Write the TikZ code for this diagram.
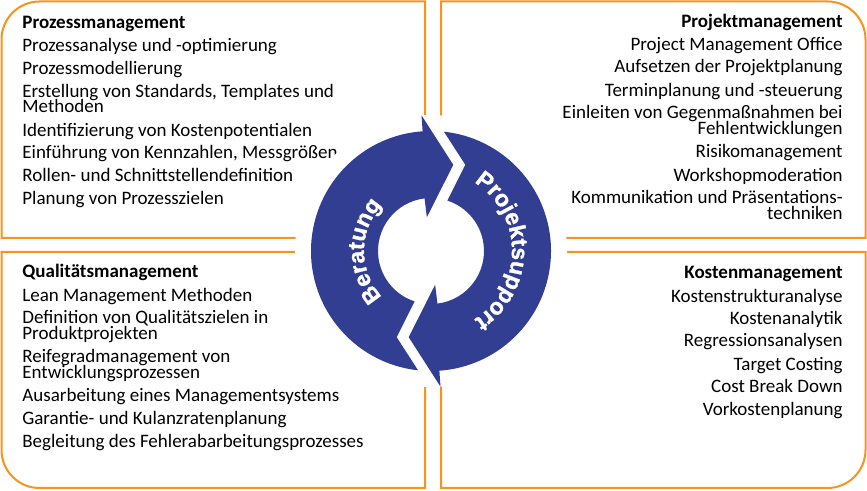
\documentclass[tikz,border=0pt]{standalone}
\usepackage{fontspec}
\setmainfont{Carlito}
\newfontfamily\bogenfont[FakeBold=1.2]{Liberation Sans Bold}
\usetikzlibrary{decorations.text}
\definecolor{kanteorange}{RGB}{247,148,29}
\definecolor{kreisblau}{RGB}{50,62,145}

\begin{document}
\begin{tikzpicture}[x=0.5pt,y=0.5pt,
		eintrag/.style={font=\fontsize{9.5}{11}\selectfont, inner sep=0pt},
		links/.style={eintrag, anchor=base west},
		rechts/.style={eintrag, anchor=base east},
		kopf/.style={font=\fontsize{9.5}{11}\selectfont\bfseries},
		kante/.style={draw=kanteorange, line width=1pt}]
		\useasboundingbox (0,0) rectangle (867,491);

		% die vier Felder
		\draw[kante] (425,253) -- (1.5,253) -- (1.5,451.5) arc[start angle=180, end angle=90, radius=38] -- (425,489.5) -- cycle;
		\draw[kante] (441,253) -- (865.5,253) -- (865.5,451.5) arc[start angle=0, end angle=90, radius=38] -- (441,489.5) -- cycle;
		\draw[kante] (425,239) -- (1.5,239) -- (1.5,41) arc[start angle=180, end angle=270, radius=38] -- (425,3) -- cycle;
		\draw[kante] (441,239) -- (865.5,239) -- (865.5,41) arc[start angle=0, end angle=-90, radius=38] -- (441,3) -- cycle;

		% Prozessmanagement
		\node[links, kopf] (pm0) at (22,462) {Prozessmanagement};
		\node[links] (pm1) at (22,439) {Prozessanalyse und -optimierung};
		\node[links] (pm2) at (22,416) {Prozessmodellierung};
		\node[links] (pm3) at (22,393) {Erstellung von Standards, Templates und};
		\node[links] (pm3b) at (22,378) {Methoden};
		\node[links] (pm4) at (22,354) {Identifizierung von Kostenpotentialen};
		\node[links] (pm5) at (22,332) {Einführung von Kennzahlen, Messgrößen};
		\node[links] (pm6) at (22,309) {Rollen- und Schnittstellendefinition};
		\node[links] (pm7) at (22,286) {Planung von Prozesszielen};

		% Projektmanagement
		\node[rechts, kopf] (pj0) at (843,463) {Projektmanagement};
		\node[rechts] (pj1) at (843,440) {Project Management Office};
		\node[rechts] (pj2) at (843,418) {Aufsetzen der Projektplanung};
		\node[rechts] (pj3) at (843,394) {Terminplanung und -steuerung};
		\node[rechts] (pj4) at (843,372) {Einleiten von Gegenmaßnahmen bei};
		\node[rechts] (pj4b) at (843,356) {Fehlentwicklungen};
		\node[rechts] (pj5) at (843,333) {Risikomanagement};
		\node[rechts] (pj6) at (843,309) {Workshopmoderation};
		\node[rechts] (pj7) at (843,287) {Kommunikation und Präsentations-};
		\node[rechts] (pj7b) at (843,271) {techniken};

		% Qualitaetsmanagement
		\node[links, kopf] (qm0) at (22,213) {Qualitätsmanagement};
		\node[links] (qm1) at (22,189) {Lean Management Methoden};
		\node[links] (qm2) at (22,167) {Definition von Qualitätszielen in};
		\node[links] (qm2b) at (22,151) {Produktprojekten};
		\node[links] (qm3) at (22,128) {Reifegradmanagement von};
		\node[links] (qm3b) at (22,112) {Entwicklungsprozessen};
		\node[links] (qm4) at (22,89) {Ausarbeitung eines Managementsystems};
		\node[links] (qm5) at (22,66) {Garantie- und Kulanzratenplanung};
		\node[links] (qm6) at (22,43) {Begleitung des Fehlerabarbeitungsprozesses};

		% Kostenmanagement
		\node[rechts, kopf] (km0) at (843,212) {Kostenmanagement};
		\node[rechts] (km1) at (843,188) {Kostenstrukturanalyse};
		\node[rechts] (km2) at (843,166) {Kostenanalytik};
		\node[rechts] (km3) at (843,144) {Regressionsanalysen};
		\node[rechts] (km4) at (843,120) {Target Costing};
		\node[rechts] (km5) at (843,98) {Cost Break Down};
		\node[rechts] (km6) at (843,75) {Vorkostenplanung};

		% Kreislauf in der Mitte
		\begin{scope}[shift={(431,240)}]
			\fill[white] (0,0) circle[radius=136];
			\fill[kreisblau] (263.8:120) arc[start angle=263.8, end angle=94, radius=120] -- (94:136) -- (75.5:89) -- (97:34) -- (97:53) arc[start angle=97, end angle=252, radius=53] -- (248.3:92.8) -- cycle;
			\fill[kreisblau, rotate=180] (263.8:120) arc[start angle=263.8, end angle=94, radius=120] -- (94:136) -- (75.5:89) -- (97:34) -- (97:53) arc[start angle=97, end angle=252, radius=53] -- (248.3:92.8) -- cycle;
			\path[decorate, decoration={text along path, text align=center, text color=white,
				text={|\bogenfont\fontsize{11.5}{13}\selectfont|Beratung}}]
				(240:67) arc[start angle=240, end angle=120, radius=67];
			\path[decorate, decoration={text along path, text align=center, text color=white,
				text={|\bogenfont\fontsize{11.5}{13}\selectfont|Projektsupport}}]
				(80:81) arc[start angle=80, end angle=-80, radius=81];
		\end{scope}
	\end{tikzpicture}
\end{document}
